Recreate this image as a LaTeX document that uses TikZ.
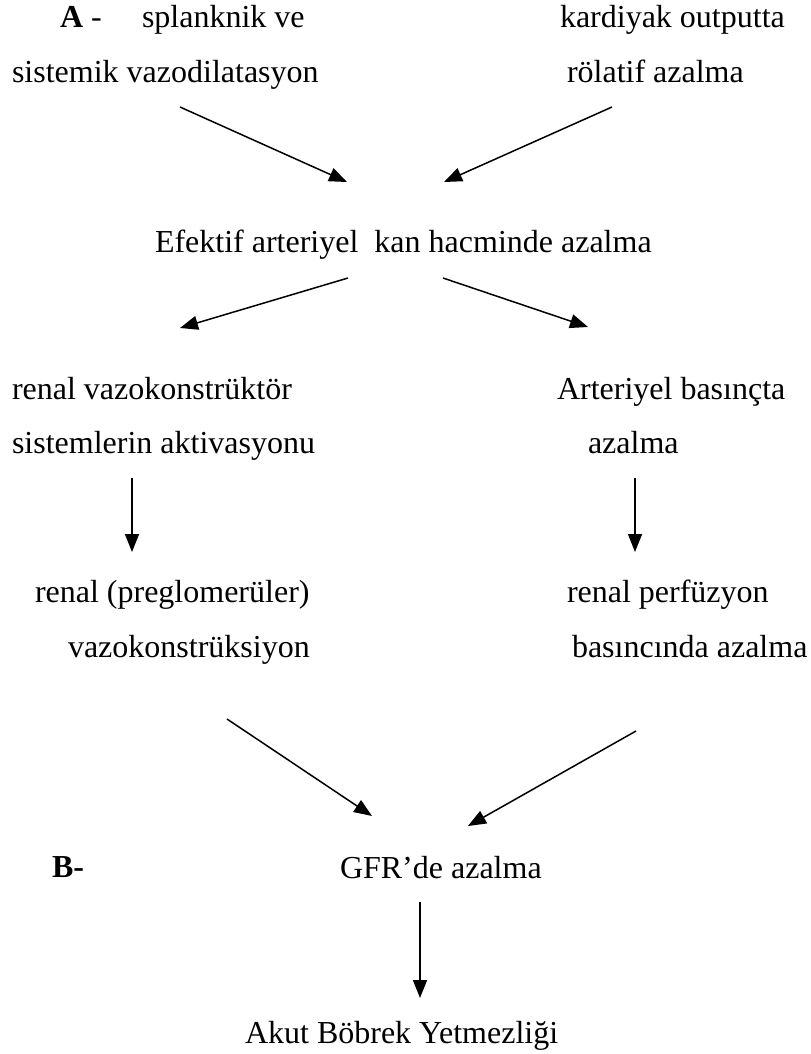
\documentclass[tikz,border=0pt]{standalone}
\usepackage{fontspec}
\setmainfont{Liberation Serif}
\usetikzlibrary{arrows.meta}
\begin{document}
\begin{tikzpicture}[x=1bp,y=-1bp,
  lbl/.style={anchor=base west,inner sep=0pt,outer sep=0pt,font=\fontsize{32bp}{38bp}\selectfont},
  arr/.style={line width=1.5bp,-{Triangle[length=18bp,width=14bp]}}]
\useasboundingbox (0,0) rectangle (811,1054);
% texts
\node[lbl] (A)    at (60,27)  {\textbf{A} -};
\node[lbl] (spl)  at (142,27) {splanknik ve};
\node[lbl] (svd)  at (12,82)  {sistemik vazodilatasyon};
\node[lbl] (kard) at (560,27) {kardiyak outputta};
\node[lbl] (rel)  at (567,82) {rölatif azalma};
\node[lbl] (eff)  at (155,252) {Efektif arteriyel\ \ kan hacminde azalma};
\node[lbl] (rv1)  at (12,399) {renal vazokonstrüktör};
\node[lbl] (rv2)  at (12,453) {sistemlerin aktivasyonu};
\node[lbl] (ab1)  at (557,399) {Arteriyel basınçta};
\node[lbl] (ab2)  at (588,453) {azalma};
\node[lbl] (rp1)  at (35,602) {renal (preglomerüler)};
\node[lbl] (rp2)  at (68,657) {vazokonstrüksiyon};
\node[lbl] (pf1)  at (567,602) {renal perfüzyon};
\node[lbl] (pf2)  at (572,657) {basıncında azalma};
\node[lbl] (B)    at (52,877) {\textbf{B-}};
\node[lbl] (gfr)  at (340,878) {GFR’de azalma};
\node[lbl] (aby)  at (245,1043) {Akut Böbrek Yetmezliği};
% connector end points
\coordinate (c1s) at (180,107); \coordinate (c1e) at (347,182);
\coordinate (c2s) at (612,107); \coordinate (c2e) at (444,182);
\coordinate (c3s) at (348,278); \coordinate (c3e) at (180,328);
\coordinate (c4s) at (443,278); \coordinate (c4e) at (588,327);
\coordinate (c5s) at (132,478); \coordinate (c5e) at (132,552);
\coordinate (c6s) at (635,478); \coordinate (c6e) at (635,552);
\coordinate (c7s) at (227,719); \coordinate (c7e) at (372,816);
\coordinate (c8s) at (636,731); \coordinate (c8e) at (468,826);
\coordinate (c9s) at (420,902); \coordinate (c9e) at (420,998);
% connectors
\draw[arr] (c1s) -- (c1e);
\draw[arr] (c2s) -- (c2e);
\draw[arr] (c3s) -- (c3e);
\draw[arr] (c4s) -- (c4e);
\draw[arr] (c5s) -- (c5e);
\draw[arr] (c6s) -- (c6e);
\draw[arr] (c7s) -- (c7e);
\draw[arr] (c8s) -- (c8e);
\draw[arr] (c9s) -- (c9e);
\end{tikzpicture}
\end{document}
